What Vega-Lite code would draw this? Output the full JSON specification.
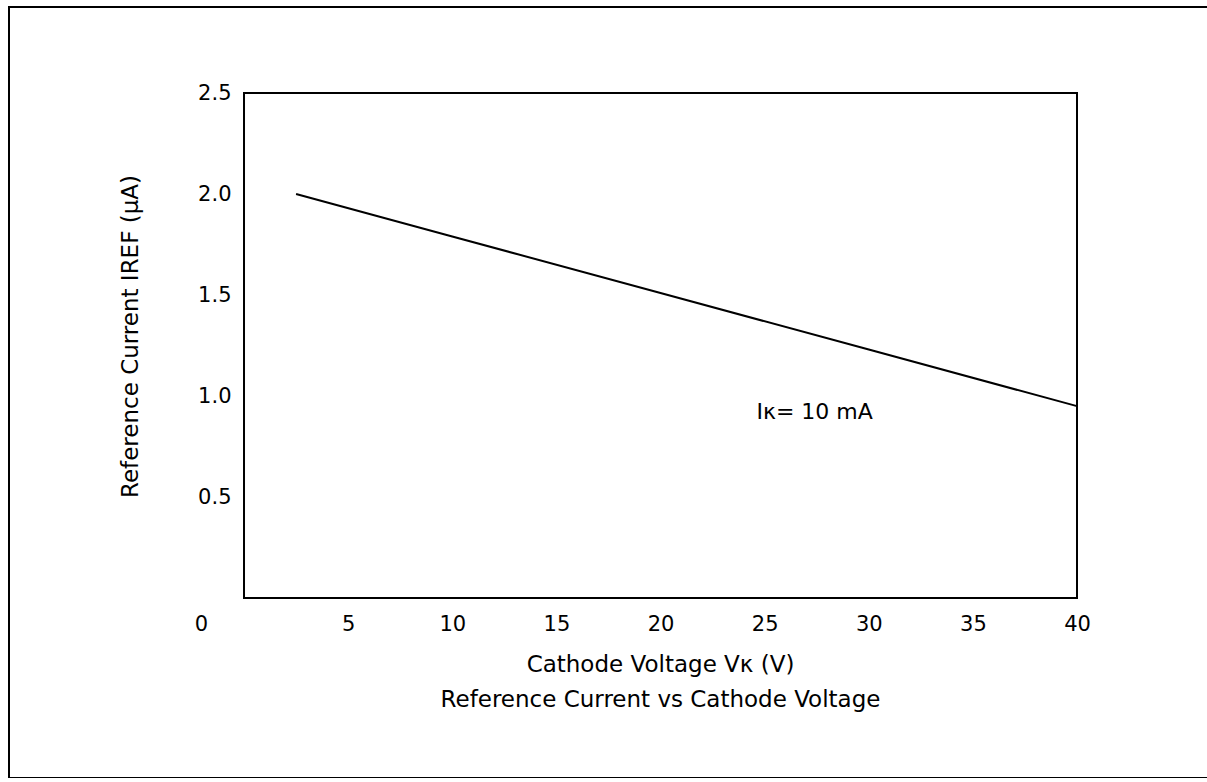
{
  "$schema": "https://vega.github.io/schema/vega-lite/v6.json",
  "width": 1230,
  "height": 771,
  "autosize": {"type": "none"},
  "padding": {"left": 9, "top": 7, "right": 0, "bottom": 0},
  "background": "white",
  "config": {
    "view": {"stroke": "black", "strokeWidth": 2},
    "font": "DejaVu Sans"
  },
  "datasets": {
    "box": [{"vk": 0, "vk2": 40, "iref": 0, "iref2": 2.5}],
    "curve": [
      {"vk": 2.5, "iref": 2.0},
      {"vk": 10, "iref": 1.79},
      {"vk": 20, "iref": 1.51},
      {"vk": 30, "iref": 1.23},
      {"vk": 40, "iref": 0.95}
    ],
    "note": [{"vk": 27.4, "iref": 0.92, "label": "Iκ= 10 mA"}]
  },
  "encoding": {
    "x": {
      "field": "vk",
      "type": "quantitative",
      "scale": {"domain": [-11.285, 47.779], "nice": false, "zero": false},
      "axis": {
        "orient": "bottom",
        "offset": -180,
        "values": [0, 5, 10, 15, 20, 25, 30, 35, 40],
        "ticks": false,
        "domain": false,
        "grid": false,
        "labelFontSize": 21,
        "labelColor": "black",
        "labelPadding": 15,
        "labelFlush": false,
        "labelOverlap": false,
        "labelOffset": {"condition": {"test": "datum.value === 0", "value": -43}, "value": 0},
        "title": ["Cathode Voltage Vκ (V)", "Reference Current vs Cathode Voltage"],
        "titleFontSize": 23,
        "titleFontWeight": "normal",
        "titleColor": "black",
        "titleX": 651,
        "titleY": 55,
        "titleAlign": "center",
        "titleBaseline": "top",
        "titleLineHeight": 35
      }
    },
    "y": {
      "field": "iref",
      "type": "quantitative",
      "scale": {"domain": [-0.891, 2.926], "nice": false, "zero": false},
      "axis": {
        "orient": "left",
        "offset": -235,
        "values": [0.5, 1, 1.5, 2, 2.5],
        "format": ".1f",
        "ticks": false,
        "domain": false,
        "grid": false,
        "labelFontSize": 21,
        "labelColor": "black",
        "labelPadding": 13,
        "labelFlush": false,
        "labelOverlap": false,
        "title": "Reference Current IREF (μA)",
        "titleFontSize": 23,
        "titleFontWeight": "normal",
        "titleColor": "black",
        "titleX": -114,
        "titleY": 329,
        "titleAngle": -90,
        "titleAlign": "center",
        "titleBaseline": "middle"
      }
    }
  },
  "layer": [
    {
      "data": {"name": "box"},
      "mark": {"type": "rect", "filled": false, "stroke": "black", "strokeWidth": 2},
      "encoding": {"x2": {"field": "vk2"}, "y2": {"field": "iref2"}}
    },
    {
      "data": {"name": "curve"},
      "mark": {"type": "line", "color": "black", "strokeWidth": 2}
    },
    {
      "data": {"name": "note"},
      "mark": {"type": "text", "fontSize": 22, "color": "black", "font": "DejaVu Sans"},
      "encoding": {"text": {"field": "label"}}
    }
  ]
}
